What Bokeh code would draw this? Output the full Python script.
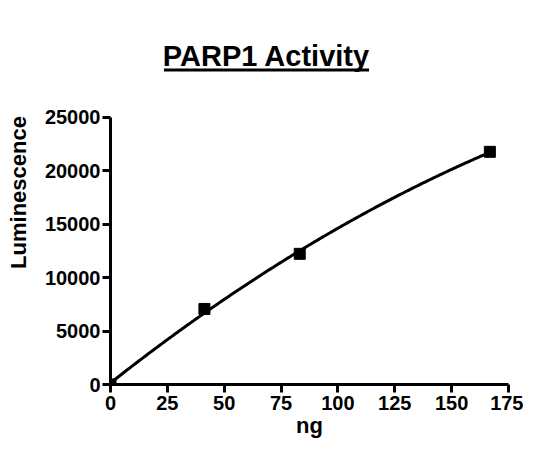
import numpy as np
from bokeh.plotting import figure
from bokeh.models import Range1d, BoxAnnotation, FixedTicker, ColumnDataSource, Label
from bokeh.embed import file_html
from bokeh.resources import INLINE

title_text = "PARP1 Activity"
x_label = "ng"
y_label = "Luminescence"
ng = [0, 41.3, 83.2, 166.8]
lum = [0, 7065, 12220, 21760]
x_ticks = [0, 25, 50, 75, 100, 125, 150, 175]
y_ticks = [0, 5000, 10000, 15000, 20000, 25000]
x_max, y_max = 175, 25000

coef = np.polyfit(ng, lum, 2)
xf = np.linspace(min(ng), max(ng), 200)
yf = np.polyval(coef, xf)

FONT = "Liberation Sans"
W, H = 523, 440
FL, FR, FT, FB = 110, 508, 117, 385  # axis box edges in figure pixels
# frame extends to the top of the figure so the title + underline live inside it
y_top = y_max * FB / (FB - FT)

p = figure(width=W, height=H, output_backend="svg", toolbar_location=None,
           x_range=Range1d(0, x_max), y_range=Range1d(0, y_top),
           min_border_left=FL, min_border_right=W - FR,
           min_border_top=0, min_border_bottom=H - FB)
p.outline_line_color = None
p.grid.visible = False
p.background_fill_color = None
p.border_fill_color = "white"

p.line(xf, yf, line_width=3, line_color="black")
src = ColumnDataSource(dict(x=ng, y=lum))
p.scatter("x", "y", source=src, marker="square", size=11, fill_color="black", line_color="black")

for ax in (p.xaxis[0], p.yaxis[0]):
    ax.axis_line_width = 3
    ax.major_tick_line_width = 3
    ax.major_tick_out = 8
    ax.major_tick_in = 0
    ax.minor_tick_line_color = None
    ax.major_label_text_font = FONT
    ax.major_label_text_font_size = "20px"
    ax.major_label_text_font_style = "bold"
    ax.axis_label_text_font = FONT
    ax.axis_label_text_font_size = "22px"
    ax.axis_label_text_font_style = "bold"
    ax.major_label_text_color = "black"
    ax.axis_label_text_color = "black"

p.xaxis.ticker = FixedTicker(ticks=x_ticks)
p.yaxis.ticker = FixedTicker(ticks=y_ticks)
p.yaxis.bounds = (0, y_max)
p.xaxis.axis_label = x_label
p.yaxis.axis_label = y_label
p.xaxis.major_label_standoff = 3
p.yaxis.major_label_standoff = 2
p.xaxis.axis_label_standoff = 0
p.yaxis.axis_label_standoff = 11

# title, centred at figure x 266, em-box top at figure y 40
TX, TTOP = 266, 40
title = Label(x=TX - FL, y=FB - TTOP, x_units="screen", y_units="screen",
              text=title_text, text_font=FONT, text_font_size="29px",
              text_font_style="bold", text_color="black",
              text_align="center", text_baseline="top")
p.add_layout(title)
underline = BoxAnnotation(left=TX - 102.5 - FL, right=TX + 102.5 - FL,
                          top=FB - 69, bottom=FB - 72,
                          left_units="screen", right_units="screen",
                          top_units="screen", bottom_units="screen",
                          fill_color="black", fill_alpha=1, line_color=None)
p.add_layout(underline)

open("out.html", "w").write(file_html(p, INLINE))
